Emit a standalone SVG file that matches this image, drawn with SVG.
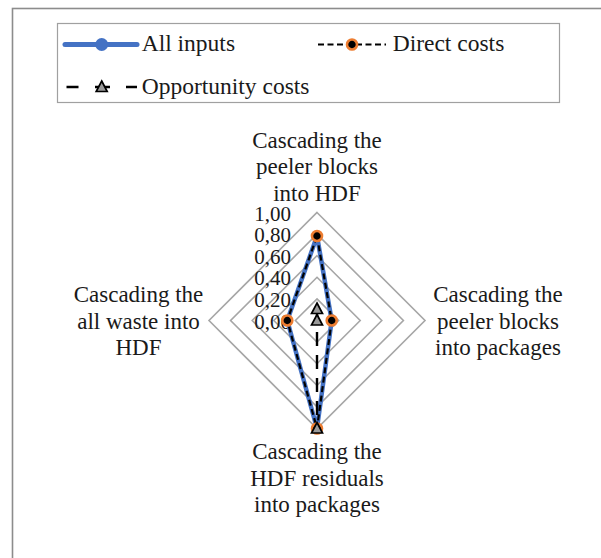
<svg xmlns="http://www.w3.org/2000/svg" width="601" height="558" viewBox="0 0 601 558">
  <style>
    .leg { font-size: 23.5px; }
    .lbl { font-size: 23px; text-anchor: middle; }
    .tick { font-size: 21px; text-anchor: end; }
    .ring { fill: none; stroke: #a6a6a6; stroke-width: 1.6; }
    .all { fill: none; stroke: #4472c4; stroke-width: 4.5; stroke-linejoin: round; }
    .direct { fill: none; stroke: #000; stroke-width: 2.2; stroke-dasharray: 6 3.5; }
    .opp { fill: none; stroke: #000; stroke-width: 2.4; stroke-dasharray: 14 9; }
  </style>
  <defs>
    <circle id="mk-direct" r="5" fill="#000" stroke="#ed7d31" stroke-width="2.6"/>
    <polygon id="mk-opp" points="0,-6 5.5,4.5 -5.5,4.5" fill="#9a9a9a" stroke="#000" stroke-width="1.7"/>
  </defs>

  <rect width="601" height="558" fill="#fff"/>
  <!-- chart area frame -->
  <rect x="12.5" y="8.5" width="620" height="580" fill="none" stroke="#8c8c8c" stroke-width="1.6"/>

  <g font-family="'Liberation Serif', 'DejaVu Serif', serif" fill="#1a1a1a">
  <!-- legend -->
  <g id="legend">
    <rect x="57.5" y="23.5" width="502" height="79" fill="#fff" stroke="#a0a0a0" stroke-width="1.2"/>
    <line x1="65" y1="44.5" x2="137" y2="44.5" stroke="#4472c4" stroke-width="5" stroke-linecap="round"/>
    <circle cx="101.7" cy="44.5" r="6.5" fill="#4472c4"/>
    <text class="leg" x="141.7" y="51">All inputs</text>
    <line x1="318" y1="44.5" x2="386" y2="44.5" stroke="#000" stroke-width="2.2" stroke-dasharray="6 3.5"/>
    <use href="#mk-direct" x="352" y="44.5"/>
    <text class="leg" x="392.7" y="51">Direct costs</text>
    <line x1="66.5" y1="87" x2="137" y2="87" stroke="#000" stroke-width="2.4" stroke-dasharray="12 16.5 15 16 11"/>
    <use href="#mk-opp" x="101.7" y="87"/>
    <text class="leg" x="141.7" y="94">Opportunity costs</text>
  </g>

  <!-- radial grid: rings at 0.2 steps, centre (317,320.5), radius 108 -->
  <g id="grid">
    <polygon class="ring" points="317,298.9 338.6,320.5 317,342.1 295.4,320.5"/>
    <polygon class="ring" points="317,277.3 360.2,320.5 317,363.7 273.8,320.5"/>
    <polygon class="ring" points="317,255.7 381.8,320.5 317,385.3 252.2,320.5"/>
    <polygon class="ring" points="317,234.1 403.4,320.5 317,406.9 230.6,320.5"/>
    <polygon class="ring" points="317,212.5 425,320.5 317,428.5 209,320.5"/>
  </g>

  <g id="ticks">
    <text class="tick" x="291" y="220.5">1,00</text>
    <text class="tick" x="291" y="242.1">0,80</text>
    <text class="tick" x="291" y="263.7">0,60</text>
    <text class="tick" x="291" y="285.3">0,40</text>
    <text class="tick" x="291" y="306.9">0,20</text>
    <text class="tick" x="291" y="328.5">0,00</text>
  </g>

  <!-- axis labels -->
  <g id="axis-top">
    <text class="lbl" x="317" y="147.5">Cascading the</text>
    <text class="lbl" x="317" y="174">peeler blocks</text>
    <text class="lbl" x="317" y="200.5">into HDF</text>
  </g>
  <g id="axis-right">
    <text class="lbl" x="498" y="302">Cascading the</text>
    <text class="lbl" x="498" y="328.5">peeler blocks</text>
    <text class="lbl" x="498" y="355">into packages</text>
  </g>
  <g id="axis-bottom">
    <text class="lbl" x="317" y="459">Cascading the</text>
    <text class="lbl" x="317" y="485.5">HDF residuals</text>
    <text class="lbl" x="317" y="512">into packages</text>
  </g>
  <g id="axis-left">
    <text class="lbl" x="138.5" y="302">Cascading the</text>
    <text class="lbl" x="138.5" y="328.5">all waste into</text>
    <text class="lbl" x="138.5" y="355">HDF</text>
  </g>
  </g>

  <!-- data series -->
  <g id="series">
    <polygon class="all" points="317,236 331.7,320.5 317,428.5 287.3,320.5"/>
    <polygon class="direct" points="317,236 331.7,320.5 317,428.5 287.3,320.5"/>
    <polyline class="opp" points="317,309 317,320.5 317,428.5"/>
    <use href="#mk-direct" x="317" y="236"/>
    <use href="#mk-direct" x="331.7" y="320.5"/>
    <use href="#mk-direct" x="317" y="428.5"/>
    <use href="#mk-direct" x="287.3" y="320.5"/>
    <use href="#mk-opp" x="317" y="309"/>
    <use href="#mk-opp" x="317" y="320.5"/>
    <use href="#mk-opp" x="317" y="428.5"/>
  </g>
</svg>
